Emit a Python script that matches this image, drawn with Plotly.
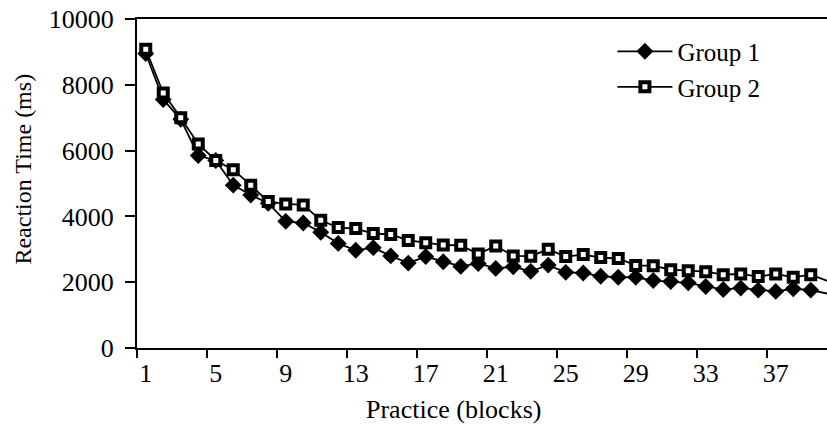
import plotly.graph_objects as go

blocks = list(range(1, 41))
group1 = [8950, 7550, 6950, 5850, 5700, 4950, 4650, 4400, 3850, 3800,
          3520, 3180, 2970, 3050, 2800, 2580, 2780, 2620, 2480, 2570,
          2420, 2470, 2330, 2520, 2300, 2280, 2180, 2150, 2150, 2050,
          2020, 1980, 1870, 1780, 1820, 1760, 1720, 1800, 1760, 1650]
group2 = [9080, 7750, 7000, 6200, 5700, 5420, 4950, 4450, 4380, 4350,
          3880, 3660, 3630, 3480, 3450, 3270, 3200, 3130, 3120, 2860,
          3100, 2800, 2790, 3000, 2780, 2840, 2750, 2720, 2510, 2500,
          2380, 2350, 2320, 2230, 2250, 2170, 2250, 2150, 2230, 2030]
label_blocks = [1, 5, 9, 13, 17, 21, 25, 29, 33, 37]
tick_bounds = [b - 0.5 for b in label_blocks]
y_ticks = [0, 2000, 4000, 6000, 8000, 10000]

FONT = "Liberation Serif"
FS = 26
xr = [0.5, 39.93]

fig = go.Figure()
fig.add_trace(go.Scatter(
    x=blocks, y=group1, name="Group 1", mode="lines+markers",
    line=dict(color="black", width=1.8),
    marker=dict(symbol="diamond", size=13, color="black"),
    cliponaxis=False,
))
fig.add_trace(go.Scatter(
    x=blocks, y=group2, name="Group 2", mode="lines+markers",
    line=dict(color="black", width=1.8),
    marker=dict(symbol="square", size=9, color="white",
                line=dict(color="black", width=4)),
    cliponaxis=False,
))
# invisible trace to activate tick-mark axis
fig.add_trace(go.Scatter(x=[None], y=[None], xaxis="x2", showlegend=False))

fig.update_layout(
    template="none",
    width=827, height=446,
    margin=dict(l=137, r=0, t=19, b=98, autoexpand=False),
    paper_bgcolor="white", plot_bgcolor="white",
    font=dict(family=FONT, size=FS, color="black"),
    showlegend=True,
    legend=dict(x=0.689, y=0.971, xanchor="left", yanchor="top",
                bgcolor="rgba(0,0,0,0)", font=dict(size=FS - 1),
                itemwidth=55, tracegroupgap=0),
    xaxis=dict(
        range=xr, tickmode="array", tickvals=label_blocks,
        ticktext=[str(b) for b in label_blocks],
        ticks="", automargin=False, ticklabeloverflow="allow",
        showline=True, linecolor="black", linewidth=2, mirror=True,
        showgrid=False, zeroline=False, ticklabelstandoff=1,
        tickfont=dict(family=FONT, size=FS),
    ),
    xaxis2=dict(
        range=xr, overlaying="x", anchor="y", side="bottom",
        tickmode="array", tickvals=tick_bounds, showticklabels=False,
        ticks="outside", ticklen=9, tickwidth=1.5, tickcolor="black",
        showline=False, showgrid=False, zeroline=False, automargin=False,
    ),
    yaxis=dict(
        range=[0, 10000], tickmode="array", tickvals=y_ticks,
        ticktext=[str(v) for v in y_ticks],
        ticks="outside", ticklen=10, tickwidth=1.5, tickcolor="black",
        showline=True, linecolor="black", linewidth=2,
        showgrid=False, zeroline=False, automargin=False,
        ticklabelstandoff=6, ticklabeloverflow="allow",
        tickfont=dict(family=FONT, size=FS),
    ),
    annotations=[
        dict(text="Reaction Time (ms)", xref="paper", yref="paper",
             x=(23 - 137) / 690, y=(348 - 169) / 330, textangle=-90,
             showarrow=False, xanchor="center", yanchor="middle",
             font=dict(family=FONT, size=24)),
        dict(text="Practice (blocks)", xref="paper", yref="paper",
             x=(453 - 137) / 690, y=(348 - 410) / 330,
             showarrow=False, xanchor="center", yanchor="middle",
             font=dict(family=FONT, size=FS)),
    ],
)

fig.write_html("out.html",
               config={"displayModeBar": False},
               post_script="document.body.style.margin='0';")
